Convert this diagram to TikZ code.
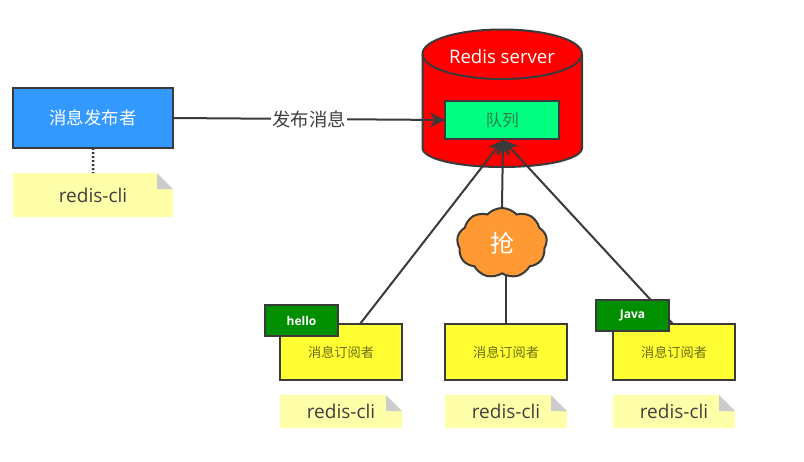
\documentclass[tikz,border=0pt]{standalone}
\usepackage{fontspec}
\setmainfont{Open Sans}
\newfontfamily\cjk{Noto Sans CJK SC}
\usetikzlibrary{arrows.meta,shapes.symbols}
\definecolor{edgedark}{HTML}{3A3A3A}
\definecolor{pubblue}{HTML}{3399FF}
\definecolor{queuegreen}{HTML}{00FF80}
\definecolor{subyellow}{HTML}{FFFF33}
\definecolor{notefill}{HTML}{FFFFAA}
\definecolor{foldgray}{HTML}{CCCCCC}
\definecolor{taggreen}{HTML}{008F00}
\definecolor{cloudorange}{HTML}{FF9933}
\definecolor{labeltext}{HTML}{3F3F3F}
\definecolor{subtext}{HTML}{6E6E10}
\definecolor{queuetext}{HTML}{2A7F4C}
\tikzset{
  x=1pt,y=-1pt,
  box/.style={draw=edgedark,line width=2pt,inner sep=0pt,outer sep=0pt,anchor=north west},
  sized/.style 2 args={minimum width=#1 pt,minimum height=#2 pt},
  pubbox/.style={box,fill=pubblue,text=white,font=\cjk\fontsize{17.4}{20}\selectfont},
  subbox/.style={box,fill=subyellow,text=subtext,font=\cjk\fontsize{13.2}{16}\selectfont},
  tagbox/.style={box,fill=taggreen,text=white,font=\fontsize{12}{14}\selectfont\bfseries},
  notebox/.style={inner sep=0pt,outer sep=0pt,anchor=north west,fill=notefill,text=labeltext,
    font=\fontsize{19}{22}\selectfont,
    path picture={
      \fill[white] ([xshift=-16pt]path picture bounding box.north east) -- (path picture bounding box.north east) -- ([yshift=-16pt]path picture bounding box.north east) -- cycle;
      \fill[foldgray] ([xshift=-16pt]path picture bounding box.north east) -- ([yshift=-16pt]path picture bounding box.north east) -- ([xshift=-16pt,yshift=-16pt]path picture bounding box.north east) -- cycle;
    }},
  link/.style={draw=edgedark,line width=2pt},
  arrowlink/.style={link,-{Stealth[length=15pt,width=15pt]}},
}
\begin{document}
\begin{tikzpicture}
\useasboundingbox (0,0) rectangle (804,461);
\fill[white] (0,0) rectangle (804,461);

% Redis server cylinder
\draw[draw=edgedark,line width=2pt,fill=red]
  (422.5,54) -- (422.5,148) .. controls (422.5,159) and (458,167) .. (502,167)
  .. controls (546,167) and (582,159) .. (582,148) -- (582,54)
  .. controls (582,40) and (546,29.5) .. (502,29.5) .. controls (458,29.5) and (422.5,40) .. (422.5,54) -- cycle;
\draw[draw=edgedark,line width=2pt]
  (422.5,54) .. controls (422.5,68) and (458,79) .. (502,79)
  .. controls (546,79) and (582,68) .. (582,54);
\node[text=white,font=\fontsize{18.6}{22}\selectfont] (srv) at (502,57) {Redis server};

% Anchors for connector ends hidden by boxes
\coordinate (s1top) at (360,324);
\coordinate (s2top) at (505.5,324);
\coordinate (s3top) at (673,324);
\coordinate (qin) at (503,140);
\coordinate (pubout) at (173,118);
\coordinate (qleft) at (445,120);

% Cloud
\node[cloud,cloud puffs=9,cloud puff arc=95,aspect=1.25,draw=edgedark,line width=2pt,fill=cloudorange,
  minimum width=90pt,minimum height=70pt,inner sep=0pt,text=white,font=\cjk\fontsize{24}{27}\selectfont] (grab) at (502,243) {抢};

% Queue
\node[box,fill=queuegreen,text=queuetext,font=\cjk\fontsize{16.5}{19}\selectfont,sized={114}{38}] (q) at (445.3,101.3) {队列};

% Publisher
\node[pubbox,sized={159.5}{60.5}] (pub) at (13.3,87.5) {消息发布者};
\node[notebox,sized={160}{44}] (n0) at (13,173) {redis-cli};

% Subscribers
\node[subbox,sized={121.5}{56}] (s1) at (280.3,324.3) {\raisebox{-1pt}{消息订阅者}};
\node[subbox,sized={121.5}{56}] (s2) at (445.3,324.3) {\raisebox{-1pt}{消息订阅者}};
\node[subbox,sized={121.5}{56}] (s3) at (613.3,324.3) {\raisebox{-1pt}{消息订阅者}};
\node[notebox,sized={122}{33}] (n1) at (280,395) {redis-cli};
\node[notebox,sized={122}{33}] (n2) at (445,395) {redis-cli};
\node[notebox,sized={122}{33}] (n3) at (613,395) {redis-cli};

% Connectors
\draw[link,dash pattern=on 2pt off 2pt,line width=2.5pt] (pub.south) -- (n0.north);
\draw[arrowlink] (pubout) -- node[fill=white,inner sep=1pt,text=labeltext,font=\cjk\fontsize{18.4}{21}\selectfont,pos=0.5] (pl) {发布消息} (qleft);
\draw[arrowlink] (s1top) -- (qin);
\draw[arrowlink] (s3top) -- (qin);
\draw[arrowlink] (grab.north) -- (qin);
\draw[link] (s2top) -- (s2top |- grab.south);

% Tags
\node[tagbox,sized={72.5}{30.5}] (t1) at (265.3,305.3) {\raisebox{-1pt}{hello}};
\node[tagbox,sized={72.5}{30.5}] (t3) at (596.3,300.3) {\raisebox{-1.5pt}{Java}};
\end{tikzpicture}
\end{document}
